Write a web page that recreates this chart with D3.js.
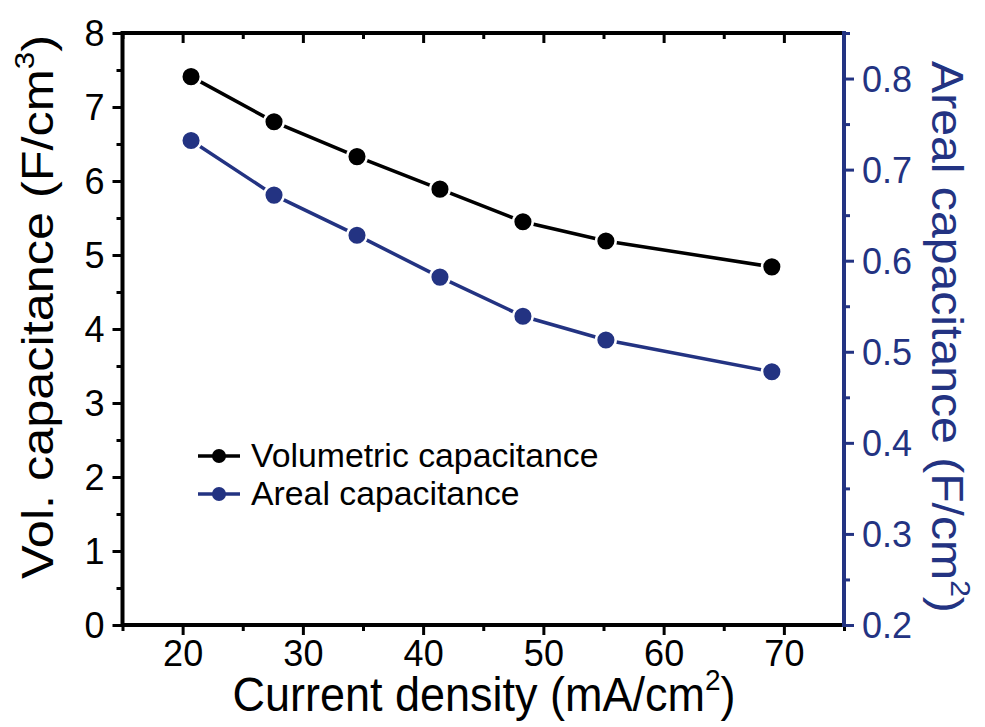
<!DOCTYPE html>
<html>
<head>
<meta charset="utf-8">
<script src="https://cdn.jsdelivr.net/npm/d3@7"></script>
<style>
  body { margin: 0; background: #fff; }
  svg text { font-family: "Liberation Sans", Arial, sans-serif; }
</style>
</head>
<body>
<svg id="chart" width="985" height="727"></svg>
<script>
// data
var currentDensity = [20.7, 27.6, 34.5, 41.4, 48.3, 55.2, 69.0];
var volCap = [7.41, 6.80, 6.33, 5.89, 5.45, 5.19, 4.84];
var arealCap = [0.732, 0.672, 0.628, 0.582, 0.539, 0.513, 0.478];
var xTicks = [20, 30, 40, 50, 60, 70];
var yLeftTicks = [0, 1, 2, 3, 4, 5, 6, 7, 8];
var yRightTicks = [0.2, 0.3, 0.4, 0.5, 0.6, 0.7, 0.8];
var legendLabels = ["Volumetric capacitance", "Areal capacitance"];

var BLUE = "#233382";
var svg = d3.select("#chart");
svg.append("rect").attr("width", 985).attr("height", 727).attr("fill", "#fff");

var x = d3.scaleLinear().domain([15, 75]).range([122.5, 844]);
var yL = d3.scaleLinear().domain([0, 8]).range([625, 33]);
var yR = d3.scaleLinear().domain([0.2, 0.85]).range([625, 33]);

var minorX = d3.range(15, 76, 5).filter(function(v) { return v % 10 != 0; });
var minorL = d3.range(0.5, 8, 1);
var minorR = [0.25, 0.35, 0.45, 0.55, 0.65, 0.75, 0.85];

function plainTicks(g, color) {
  g.select(".domain").remove();
  g.selectAll("line").attr("stroke", color || "#000").attr("stroke-width", 3);
}

// bottom axis
var gB = svg.append("g").attr("transform", "translate(0,625)");
gB.append("g").call(d3.axisBottom(x).tickValues(xTicks).tickFormat(d3.format("d")).tickSize(10).tickPadding(5))
  .call(function(g) {
    plainTicks(g);
    g.selectAll("text").attr("font-size", 36).attr("fill", "#000");
  });
gB.append("g").call(d3.axisBottom(x).tickValues(minorX).tickFormat("").tickSize(6)).call(plainTicks);

// top axis (ticks inside)
var gT = svg.append("g").attr("transform", "translate(0,33)");
gT.append("g").call(d3.axisBottom(x).tickValues(xTicks).tickFormat("").tickSize(10)).call(plainTicks);
gT.append("g").call(d3.axisBottom(x).tickValues(minorX).tickFormat("").tickSize(6)).call(plainTicks);

// left axis
var gL = svg.append("g").attr("transform", "translate(122.5,0)");
gL.append("g").call(d3.axisLeft(yL).tickValues(yLeftTicks).tickFormat(d3.format("d")).tickSize(10).tickPadding(8))
  .call(function(g) {
    plainTicks(g);
    g.selectAll("text").attr("font-size", 36).attr("fill", "#000").attr("dy", "0.36em");
  });
gL.append("g").call(d3.axisLeft(yL).tickValues(minorL).tickFormat("").tickSize(6)).call(plainTicks);

// right axis (blue)
var gR = svg.append("g").attr("transform", "translate(844,0)");
gR.append("g").call(d3.axisRight(yR).tickValues(yRightTicks).tickFormat(d3.format(".1f")).tickSize(10).tickPadding(8))
  .call(function(g) {
    plainTicks(g, BLUE);
    g.selectAll("text").attr("font-size", 36).attr("fill", BLUE).attr("dy", "0.36em");
  });
gR.append("g").call(d3.axisRight(yR).tickValues(minorR).tickFormat("").tickSize(6))
  .call(function(g) { plainTicks(g, BLUE); });

// frame lines
svg.append("line").attr("x1", 122.5).attr("x2", 844).attr("y1", 625).attr("y2", 625).attr("stroke", "#000").attr("stroke-width", 4);
svg.append("line").attr("x1", 122.5).attr("x2", 844).attr("y1", 33).attr("y2", 33).attr("stroke", "#000").attr("stroke-width", 4);
svg.append("line").attr("x1", 122.5).attr("x2", 122.5).attr("y1", 31).attr("y2", 627).attr("stroke", "#000").attr("stroke-width", 4);
svg.append("line").attr("x1", 844).attr("x2", 844).attr("y1", 31).attr("y2", 627).attr("stroke", BLUE).attr("stroke-width", 4);

// series
function series(vals, yScale, color) {
  var pts = currentDensity.map(function(d, i) { return [x(d), yScale(vals[i])]; });
  svg.append("path").attr("d", d3.line()(pts)).attr("fill", "none")
    .attr("stroke", color).attr("stroke-width", 3.5);
  svg.append("g").selectAll("circle").data(pts).join("circle")
    .attr("cx", function(p) { return p[0]; }).attr("cy", function(p) { return p[1]; })
    .attr("r", 9.8).attr("fill", color).attr("stroke", "#fff").attr("stroke-width", 2.5);
}
series(volCap, yL, "#000");
series(arealCap, yR, BLUE);

// legend
var legColors = ["#000", BLUE];
legendLabels.forEach(function(lab, i) {
  var ly = 456 + i * 38;
  svg.append("line").attr("x1", 198).attr("x2", 240).attr("y1", ly).attr("y2", ly)
    .attr("stroke", legColors[i]).attr("stroke-width", 3.5);
  svg.append("circle").attr("cx", 219).attr("cy", ly).attr("r", 7).attr("fill", legColors[i]);
  svg.append("text").attr("x", 251).attr("y", ly + 11).attr("font-size", 33.8).attr("fill", "#000").text(lab);
});

// axis titles (the source figure is slightly stretched vertically)
var xt = svg.append("text").attr("transform", "translate(484,711) scale(1,1.08)")
  .attr("text-anchor", "middle").attr("font-size", 45);
xt.append("tspan").text("Current density (mA/cm");
xt.append("tspan").attr("font-size", 28).attr("dy", -19).text("2");
xt.append("tspan").attr("dy", 19).text(")");

var lt = svg.append("text").attr("transform", "translate(53,307) rotate(-90) scale(1.12,1)")
  .attr("text-anchor", "middle").attr("font-size", 45);
lt.append("tspan").text("Vol. capacitance (F/cm");
lt.append("tspan").attr("font-size", 28).attr("dy", -19).text("3");
lt.append("tspan").attr("dy", 19).text(")");

var rt = svg.append("text").attr("transform", "translate(932,337) rotate(90) scale(1.07,1)")
  .attr("text-anchor", "middle").attr("font-size", 45).attr("fill", BLUE);
rt.append("tspan").text("Areal capacitance (F/cm");
rt.append("tspan").attr("font-size", 28).attr("dy", -19).text("2");
rt.append("tspan").attr("dy", 19).text(")");
</script>
</body>
</html>
